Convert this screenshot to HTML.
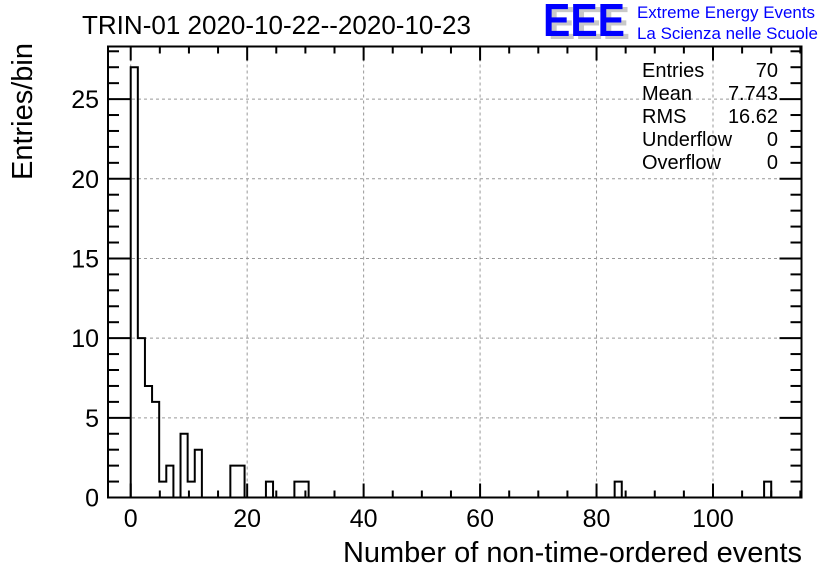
<!DOCTYPE html>
<html><head><meta charset="utf-8"><style>
body{margin:0;background:#fff;}
svg{display:block;font-family:"Liberation Sans",Arial,sans-serif;}
</style></head><body>
<svg id="c" width="836" height="572" viewBox="0 0 836 572">
<text x="82" y="34" font-size="26" textLength="389" lengthAdjust="spacingAndGlyphs">TRIN-01 2020-10-22--2020-10-23</text>
<g>
<text x="548" y="39" font-size="46" font-weight="bold" fill="#c8c8c8" textLength="82" lengthAdjust="spacingAndGlyphs">EEE</text>
<text x="543" y="36" font-size="46" font-weight="bold" fill="#0000ff" textLength="82" lengthAdjust="spacingAndGlyphs">EEE</text>
<text x="637" y="18" font-size="17" fill="#0000ff" textLength="178" lengthAdjust="spacingAndGlyphs">Extreme Energy Events</text>
<text x="637" y="39" font-size="17" fill="#0000ff" textLength="181" lengthAdjust="spacingAndGlyphs">La Scienza nelle Scuole</text>
</g>
<g id="grid"></g>
<g id="ticks"></g>
<path id="hist" fill="none" stroke="#000" stroke-width="2"/>
<rect x="108" y="46.5" width="693.5" height="451" fill="none" stroke="#000" stroke-width="2"/>
<g id="labels"></g>
<g font-size="20">
<text x="642" y="77">Entries</text><text x="778" y="77" text-anchor="end">70</text>
<text x="642" y="100">Mean</text><text x="778" y="100" text-anchor="end">7.743</text>
<text x="642" y="123">RMS</text><text x="778" y="123" text-anchor="end">16.62</text>
<text x="642" y="146">Underflow</text><text x="778" y="146" text-anchor="end">0</text>
<text x="642" y="169">Overflow</text><text x="778" y="169" text-anchor="end">0</text>
</g>
<text x="802" y="562" font-size="29" text-anchor="end" textLength="459" lengthAdjust="spacingAndGlyphs">Number of non-time-ordered events</text>
<text transform="translate(32,180) rotate(-90)" font-size="29" textLength="137" lengthAdjust="spacingAndGlyphs">Entries/bin</text>
</svg>
<script>
const binCounts=[27,10,7,6,1,2,0,4,1,3,0,0,0,0,2,2,0,0,0,1,0,0,0,1,1,0,0,0,0,0,0,0,0,0,0,0,0,0,0,0,0,0,0,0,0,0,0,0,0,0,0,0,0,0,0,0,0,0,0,0,0,0,0,0,0,0,0,0,1,0,0,0,0,0,0,0,0,0,0,0,0,0,0,0,0,0,0,0,0,1];
const binMin=0, binMax=110;
const xTicks=[0,20,40,60,80,100];
const yTicks=[0,5,10,15,20,25];
const NS="http://www.w3.org/2000/svg";
const X0=108,X1=801.5,Y0=497.5,Y1=46.5;
const xMinV=-3.9, xMaxV=115.2, yMinV=0, yMaxV=28.3;
function sx(v){return X0+(v-xMinV)/(xMaxV-xMinV)*(X1-X0);}
function sy(v){return Y0-(v-yMinV)/(yMaxV-yMinV)*(Y0-Y1);}
function mk(tag,attrs,parent){const e=document.createElementNS(NS,tag);for(const k in attrs)e.setAttribute(k,attrs[k]);parent.appendChild(e);return e;}
const grid=document.getElementById('grid'),ticks=document.getElementById('ticks'),labels=document.getElementById('labels');
xTicks.forEach(v=>{const x=sx(v);
 const g=mk('line',{x1:x,x2:x,y1:Y1,y2:Y0,stroke:'#999','stroke-dasharray':'3,3','stroke-width':1},grid);
 
 
 const t=mk('text',{x:x,y:527,'font-size':25,'text-anchor':'middle'},labels);t.textContent=v;
 
 
});
yTicks.forEach(v=>{const y=sy(v);
 if(v>0){const g=mk('line',{x1:X0,x2:X1,y1:y,y2:y,stroke:'#999','stroke-dasharray':'3,3','stroke-width':1},grid);
 
 }
 const t=mk('text',{x:99,y:y+9,'font-size':25,'text-anchor':'end'},labels);t.textContent=v;
 
 
});
for(let v=0;v<=115;v+=5){const x=sx(v),L=(v%20==0)?14:7;
 mk('line',{x1:x,x2:x,y1:Y0,y2:Y0-L,stroke:'#000','stroke-width':2},ticks);
 mk('line',{x1:x,x2:x,y1:Y1,y2:Y1+L,stroke:'#000','stroke-width':2},ticks);}
for(let v=0;v<=28;v++){const y=sy(v),L=(v%5==0)?22:11;
 mk('line',{x1:X0,x2:X0+L,y1:y,y2:y,stroke:'#000','stroke-width':2},ticks);
 mk('line',{x1:X1,x2:X1-L,y1:y,y2:y,stroke:'#000','stroke-width':2},ticks);}
const w=(binMax-binMin)/binCounts.length;
let d='M'+sx(binMin)+','+sy(0);
binCounts.forEach((c,i)=>{const a=sx(binMin+i*w),b=sx(binMin+(i+1)*w);d+=' L'+a+','+sy(c)+' L'+b+','+sy(c);});
d+=' L'+sx(binMax)+','+sy(0);
document.getElementById('hist').setAttribute('d',d);
</script>
</body></html>
